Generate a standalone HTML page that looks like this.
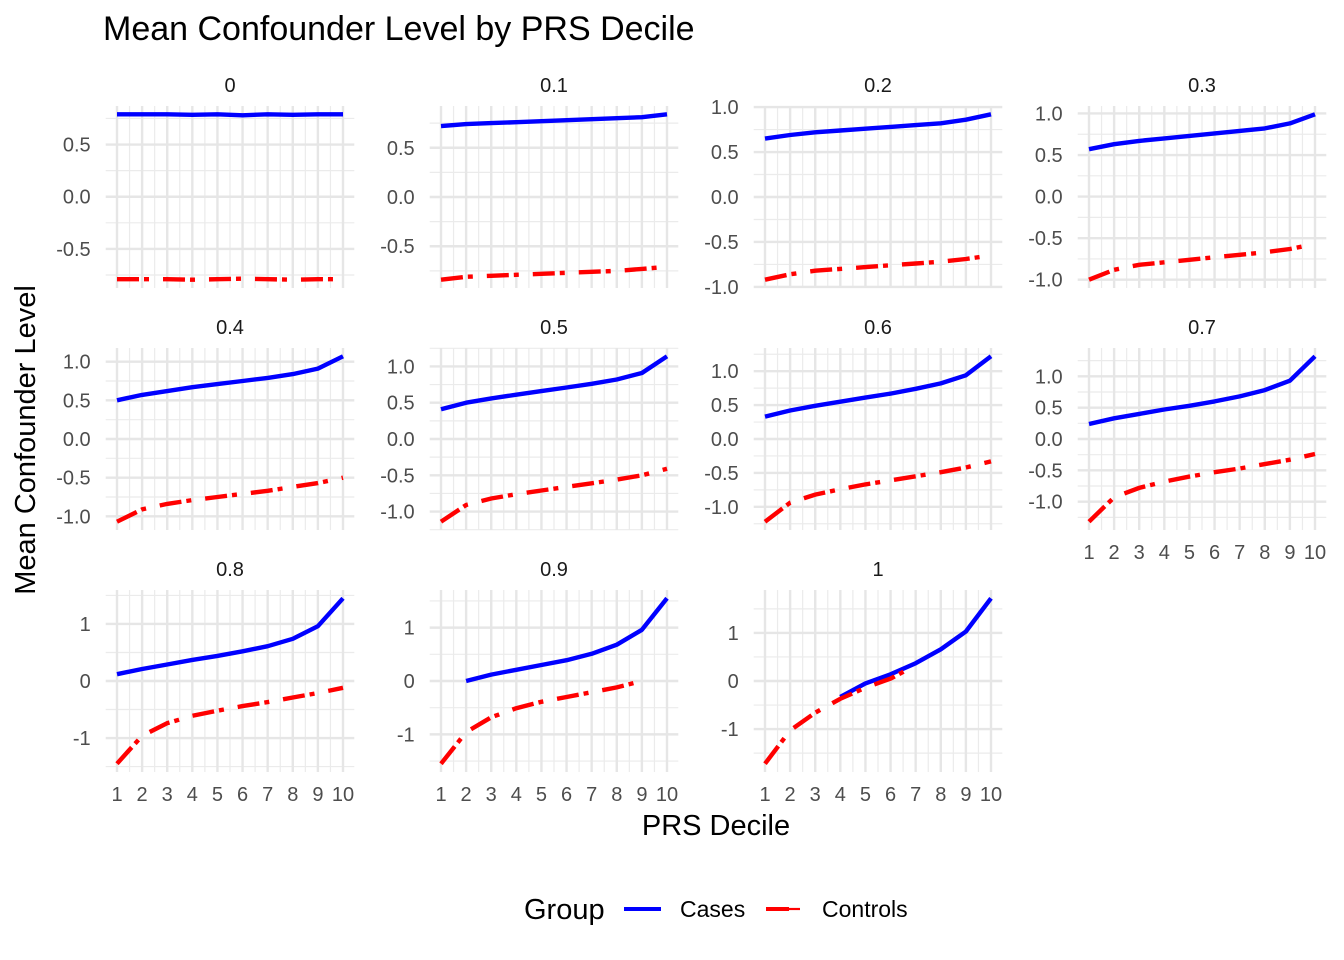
<!DOCTYPE html>
<html><head><meta charset="utf-8">
<style>
html,body{margin:0;padding:0;background:#fff;}
svg{display:block;font-family:"Liberation Sans",Arial,sans-serif;}
</style></head>
<body>
<svg id="chart" width="1344" height="960" viewBox="0 0 1344 960" xmlns="http://www.w3.org/2000/svg">
<text x="103" y="40" font-size="34" fill="#000">Mean Confounder Level by PRS Decile</text>
<text transform="translate(35,440) rotate(-90)" text-anchor="middle" font-size="29" fill="#000">Mean Confounder Level</text>
<text x="716" y="835" text-anchor="middle" font-size="29" fill="#000">PRS Decile</text>
<g>
<text x="524" y="919" font-size="29" fill="#000">Group</text>
<line x1="624" y1="909" x2="661" y2="909" stroke="#0000FF" stroke-width="4"/>
<text x="680" y="917" font-size="23" fill="#000">Cases</text>
<line x1="766" y1="909" x2="789" y2="909" stroke="#FF0000" stroke-width="4"/>
<line x1="789" y1="909" x2="800" y2="909" stroke="#FF0000" stroke-width="2.2"/>
<text x="822" y="917" font-size="23" fill="#000">Controls</text>
</g>
<g id="panels"></g>
</svg>
<script>
const facets = ["0","0.1","0.2","0.3","0.4","0.5","0.6","0.7","0.8","0.9","1"];
const deciles = [1,2,3,4,5,6,7,8,9,10];
const cases0 = [0.79,0.79,0.79,0.785,0.79,0.78,0.79,0.785,0.79,0.79];
const controls0 = [-0.79,-0.79,-0.79,-0.795,-0.79,-0.785,-0.79,-0.795,-0.79,-0.79];
const cases01 = [0.72,0.74,0.75,0.76,0.77,0.78,0.79,0.80,0.81,0.84];
const controls01 = [-0.84,-0.81,-0.80,-0.79,-0.78,-0.77,-0.76,-0.75,-0.73,-0.71];
const cases02 = [0.65,0.69,0.72,0.74,0.76,0.78,0.80,0.82,0.86,0.92];
const controls02 = [-0.92,-0.86,-0.82,-0.80,-0.78,-0.76,-0.74,-0.72,-0.69,-0.65];
const cases03 = [0.57,0.63,0.67,0.70,0.73,0.76,0.79,0.82,0.88,0.99];
const controls03 = [-1.0,-0.88,-0.82,-0.79,-0.76,-0.73,-0.70,-0.67,-0.63,-0.57];
const cases04 = [0.50,0.57,0.62,0.67,0.71,0.75,0.79,0.84,0.91,1.07];
const controls04 = [-1.07,-0.91,-0.84,-0.79,-0.75,-0.71,-0.67,-0.62,-0.57,-0.50];
const cases05 = [0.41,0.50,0.56,0.61,0.66,0.71,0.76,0.82,0.91,1.14];
const controls05 = [-1.14,-0.91,-0.82,-0.76,-0.71,-0.66,-0.61,-0.56,-0.50,-0.41];
const cases06 = [0.33,0.42,0.49,0.55,0.61,0.67,0.74,0.82,0.94,1.22];
const controls06 = [-1.22,-0.94,-0.82,-0.74,-0.67,-0.61,-0.55,-0.49,-0.42,-0.33];
const cases07 = [0.24,0.33,0.40,0.47,0.53,0.60,0.68,0.78,0.93,1.32];
const controls07 = [-1.32,-0.93,-0.78,-0.68,-0.60,-0.53,-0.47,-0.40,-0.33,-0.24];
const cases08 = [0.12,0.21,0.29,0.37,0.44,0.52,0.61,0.74,0.96,1.45];
const controls08 = [-1.45,-0.96,-0.74,-0.61,-0.52,-0.44,-0.37,-0.29,-0.21,-0.12];
const cases09 = [null,0.0,0.12,0.21,0.30,0.39,0.51,0.68,0.96,1.55];
const controls09 = [-1.55,-0.96,-0.68,-0.51,-0.39,-0.30,-0.21,-0.12,0.0,null];
const cases10 = [null,null,null,-0.33,-0.05,0.14,0.37,0.66,1.03,1.72];
const controls10 = [-1.72,-1.03,-0.66,-0.37,-0.14,0.05,0.33,null,null,null];
const casesAll = [cases0,cases01,cases02,cases03,cases04,cases05,cases06,cases07,cases08,cases09,cases10];
const controlsAll = [controls0,controls01,controls02,controls03,controls04,controls05,controls06,controls07,controls08,controls09,controls10];

const NS = "http://www.w3.org/2000/svg";
const root = document.getElementById("panels");
function mk(tag, attrs, parent){ const e=document.createElementNS(NS,tag); for(const k in attrs) e.setAttribute(k,attrs[k]); parent.appendChild(e); return e; }

const PW = 248.6, PH = 182;
facets.forEach((f, i) => {
  const col = i % 4, row = Math.floor(i / 4);
  const left = 105.7 + col * 324, top = 106 + row * 242;
  const xs = d => left + 11.3 + (d - 1) * (PW - 22.6) / 9;
  const vals = casesAll[i].concat(controlsAll[i]).filter(v => v !== null);
  const mn = Math.min(...vals), mx = Math.max(...vals);
  const pad = (mx - mn) * 0.05;
  const y0 = mn - pad, y1 = mx + pad;
  const ys = v => top + PH - (v - y0) / (y1 - y0) * PH;
  const step = (mx - mn) > 2.8 ? 1 : 0.5;
  const g = mk("g", {}, root);
  
  
  for (let t = Math.ceil(y0 / step - 0.5) + 0.5; t * step <= y1; t += 1) {
    const v = t * step; if (v < y0) continue;
    const ln = mk("line", {x1:left, x2:left+PW, y1:ys(v), y2:ys(v), stroke:"#EBEBEB", "stroke-width":1.2}, g);
    
    
  }
  for (let d = 1.5; d < 10; d += 1) {
    const ln = mk("line", {x1:xs(d), x2:xs(d), y1:top, y2:top+PH, stroke:"#EBEBEB", "stroke-width":1.2}, g);
    
    
  }
  for (let t = Math.ceil(y0 / step); t * step <= y1; t++) {
    const v = t * step;
    const ln = mk("line", {x1:left, x2:left+PW, y1:ys(v), y2:ys(v), stroke:"#E6E6E6", "stroke-width":2.4}, g);
    
    
    const tx = mk("text", {x:left-15, y:ys(v)+7, "text-anchor":"end", "font-size":"20", fill:"#4D4D4D"}, g);
    tx.textContent = step === 1 ? String(v) : v.toFixed(1);
    
    
  }
  deciles.forEach(d => {
    const ln = mk("line", {x1:xs(d), x2:xs(d), y1:top, y2:top+PH, stroke:"#E6E6E6", "stroke-width":2.4}, g);
    
    
  });
  if (i >= 7) {
    deciles.forEach(d => {
      const tx = mk("text", {x:xs(d), y:top+PH+29, "text-anchor":"middle", "font-size":"20", fill:"#4D4D4D"}, g);
      tx.textContent = String(d);
      
      
    });
  }
  const st = mk("text", {x:left+PW/2, y:top-14, "text-anchor":"middle", "font-size":"20", fill:"#1A1A1A"}, g);
  st.textContent = f;
  
  
  function path(arr){ let s="", pen=false; arr.forEach((v,k)=>{ if(v===null){pen=false;return;} s += (pen?"L":"M")+xs(deciles[k]).toFixed(1)+","+ys(v).toFixed(1); pen=true; }); return s; }
  const pc = mk("path", {d:path(casesAll[i]), fill:"none", stroke:"#0000FF", "stroke-width":4.4, "stroke-linejoin":"round"}, g);
  
  
  const pr = mk("path", {d:path(controlsAll[i]), fill:"none", stroke:"#FF0000", "stroke-width":4.4, "stroke-dasharray":"22 5 5 14"}, g);
  
  
});
</script>
</body></html>
